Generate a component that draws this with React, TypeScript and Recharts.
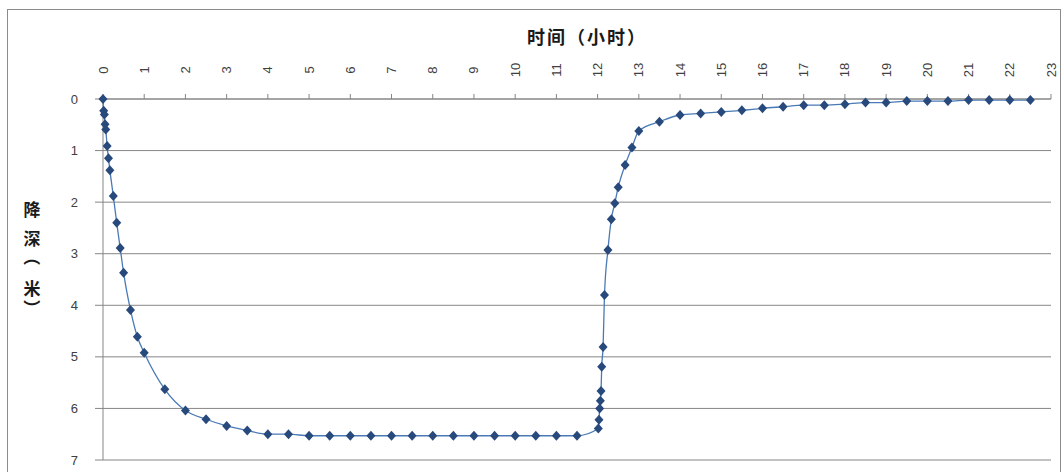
import { LineChart, Line, XAxis, YAxis, CartesianGrid, Label } from 'recharts';

// elapsed time in hours (pumping to 12 h, then recovery)
const timeHours = [
  0, 0.017, 0.033, 0.05, 0.067, 0.1, 0.133, 0.167, 0.25, 0.333, 0.417, 0.5,
  0.667, 0.833, 1, 1.5, 2, 2.5, 3, 3.5, 4, 4.5, 5, 5.5, 6, 6.5, 7, 7.5, 8,
  8.5, 9, 9.5, 10, 10.5, 11, 11.5,
  12.017, 12.033, 12.05, 12.067, 12.083, 12.1, 12.133, 12.167, 12.25, 12.333,
  12.417, 12.5, 12.667, 12.833, 13, 13.5, 14, 14.5, 15, 15.5, 16, 16.5, 17,
  17.5, 18, 18.5, 19, 19.5, 20, 20.5, 21, 21.5, 22, 22.5,
];

// drawdown in metres
const drawdown = [
  0, 0.23, 0.3, 0.49, 0.59, 0.91, 1.15, 1.38, 1.88, 2.4, 2.89, 3.37,
  4.09, 4.61, 4.92, 5.63, 6.04, 6.21, 6.34, 6.43, 6.5, 6.5, 6.53, 6.53, 6.53,
  6.53, 6.53, 6.53, 6.53, 6.53, 6.53, 6.53, 6.53, 6.53, 6.53, 6.53,
  6.39, 6.22, 6.0, 5.85, 5.66, 5.19, 4.81, 3.8, 2.93, 2.33,
  2.02, 1.71, 1.28, 0.94, 0.62, 0.44, 0.31, 0.28, 0.25, 0.22, 0.18, 0.15, 0.12,
  0.12, 0.1, 0.07, 0.07, 0.04, 0.04, 0.04, 0.02, 0.02, 0.02, 0.02,
];

const xTicks = Array.from({ length: 24 }, (_, i) => i);
const yTicks = [0, 1, 2, 3, 4, 5, 6, 7];

const xTitle = '时间（小时）';
const yTitle = ['降', '深', '（', '米', '）'];

const data = timeHours.map((t, i) => ({ t, d: drawdown[i] }));

const axisGray = '#868686';
const numFont = '"Liberation Sans", Arial, sans-serif';
const cjkFont = '"Noto Sans CJK SC", sans-serif';

const TopTick = ({ x, payload }: any) => (
  <text
    x={x}
    y={70}
    transform={`rotate(-90 ${x} 70)`}
    textAnchor="middle"
    dominantBaseline="central"
    fontSize={13}
    fontFamily={numFont}
    fill="#404040"
  >
    {payload.value}
  </text>
);

const Diamond = ({ cx, cy }: any) => (
  <path
    d={`M${cx},${cy - 5}L${cx + 4.5},${cy}L${cx},${cy + 5}L${cx - 4.5},${cy}Z`}
    fill="#27497c"
  />
);

const XTitle = () => (
  <text
    x={587}
    y={36}
    textAnchor="middle"
    dominantBaseline="central"
    fontSize={18}
    fontWeight="bold"
    letterSpacing={2}
    fontFamily={cjkFont}
    fill="#1a1a1a"
  >
    {xTitle}
  </text>
);

// stacked title; the brackets are turned a quarter like Excel's stacked text
// (the CJK bracket glyph sits off-centre, hence the shifted pivots)
const yPos = [208, 237, 257, 287, 308];
const YTitle = () => (
  <g>
    {yTitle.map((ch, i) => {
      const turned = ch === '（' || ch === '）';
      return (
        <text
          key={i}
          x={32}
          y={yPos[i]}
          transform={turned ? `rotate(90 32 ${yPos[i]})` : undefined}
          textAnchor="middle"
          dominantBaseline="central"
          fontSize={17}
          fontWeight="bold"
          fontFamily={cjkFont}
          fill="#1a1a1a"
        >
          {ch}
        </text>
      );
    })}
  </g>
);

export default function App() {
  return (
    <div
      style={{
        position: 'absolute',
        left: 0,
        top: 0,
        width: 1063,
        height: 472,
        overflow: 'hidden',
        background: '#fff',
      }}
    >
      <div
        style={{
          position: 'absolute',
          left: 7,
          top: 9,
          width: 1052,
          height: 480,
          border: '1px solid #8c8c8c',
        }}
      />
      <div style={{ position: 'absolute', left: 0, top: 0 }}>
        <LineChart
          width={1063}
          height={472}
          data={data}
          margin={{ top: 69, right: 12, bottom: 12, left: 63 }}
        >
          <CartesianGrid vertical={false} stroke={axisGray} strokeWidth={1} />
          <XAxis
            dataKey="t"
            type="number"
            orientation="top"
            domain={[0, 23]}
            ticks={xTicks}
            height={30}
            tickSize={5}
            tick={<TopTick />}
            axisLine={{ stroke: axisGray }}
            tickLine={{ stroke: axisGray }}
          >
            <Label content={<XTitle />} />
          </XAxis>
          <YAxis
            type="number"
            reversed
            domain={[0, 7]}
            ticks={yTicks}
            width={40}
            tickSize={8}
            tickMargin={17}
            tick={{ fontSize: 13, fontFamily: numFont, fill: '#404040' }}
            axisLine={{ stroke: axisGray }}
            tickLine={{ stroke: axisGray }}
          >
            <Label content={<YTitle />} />
          </YAxis>
          <Line
            type="monotone"
            dataKey="d"
            stroke="#4a7ab5"
            strokeWidth={1.3}
            dot={<Diamond />}
            activeDot={false}
            isAnimationActive={false}
          />
        </LineChart>
      </div>
    </div>
  );
}
